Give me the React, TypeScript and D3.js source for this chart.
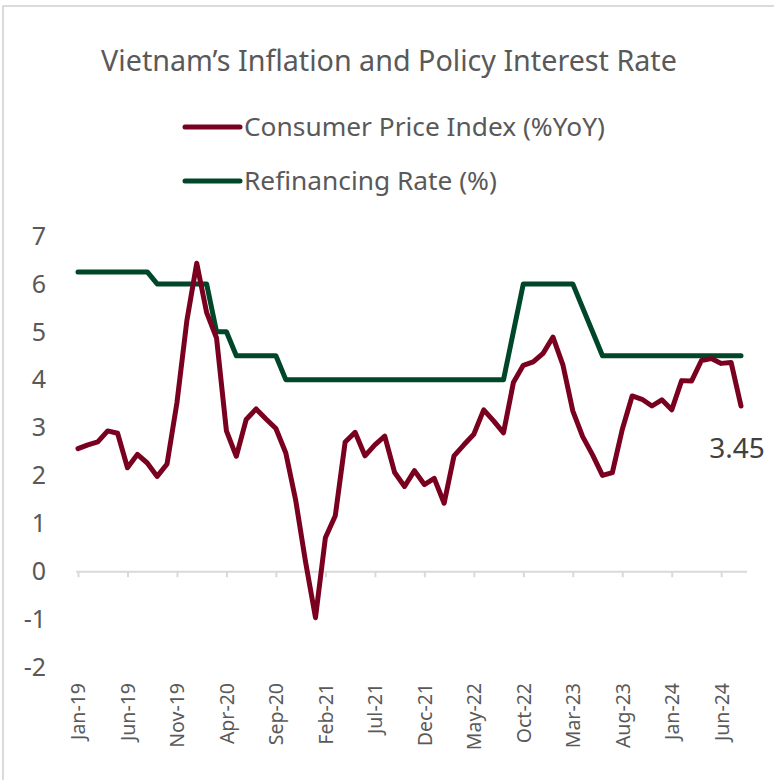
import React, { useRef, useEffect } from 'react'
import * as d3 from 'd3'

// monthly, Jan-19 .. Aug-24
const months = d3.range(68).map((i) => new Date(2019, i, 1))

const cpi = [
    2.56, 2.64, 2.7, 2.93, 2.88, 2.16, 2.44, 2.26, 1.98, 2.24, 3.52, 5.23,
    6.43, 5.4, 4.87, 2.93, 2.4, 3.17, 3.39, 3.18, 2.98, 2.47, 1.48, 0.19,
    -0.97, 0.7, 1.16, 2.7, 2.9, 2.41, 2.64, 2.82, 2.06, 1.77, 2.1, 1.81,
    1.94, 1.42, 2.41, 2.64, 2.86, 3.37, 3.14, 2.89, 3.94, 4.3, 4.37, 4.55,
    4.89, 4.31, 3.35, 2.81, 2.43, 2.0, 2.06, 2.96, 3.66, 3.59, 3.45, 3.58,
    3.37, 3.98, 3.97, 4.4, 4.44, 4.34, 4.36, 3.45,
]

const refiRate = [
    6.25, 6.25, 6.25, 6.25, 6.25, 6.25, 6.25, 6.25, 6, 6, 6, 6,
    6, 6, 5, 5, 4.5, 4.5, 4.5, 4.5, 4.5, 4, 4, 4,
    4, 4, 4, 4, 4, 4, 4, 4, 4, 4, 4, 4,
    4, 4, 4, 4, 4, 4, 4, 4, 5, 6, 6, 6,
    6, 6, 6, 5.5, 5, 4.5, 4.5, 4.5, 4.5, 4.5, 4.5, 4.5,
    4.5, 4.5, 4.5, 4.5, 4.5, 4.5, 4.5, 4.5,
]

const yTicks = [-2, -1, 0, 1, 2, 3, 4, 5, 6, 7]

const series = [
    { name: 'Consumer Price Index (%YoY)', values: cpi, color: '#7a0020' },
    { name: 'Refinancing Rate (%)', values: refiRate, color: '#00472a' },
]

const W = 774
const H = 780
const FONT = '"Noto Sans", sans-serif'
const TEXT = '#595959'

export default function App() {
    const svgRef = useRef<SVGSVGElement>(null)

    useEffect(() => {
        const svg = d3.select(svgRef.current)
        svg.selectAll('*').remove()

        const x = d3.scaleLinear().domain([0, months.length - 1]).range([78, 741])
        const y = d3.scaleLinear().domain([-2, 7]).range([667, 236])

        // 外框
        svg.append('rect')
            .attr('x', 3)
            .attr('y', 6)
            .attr('width', W + 20)
            .attr('height', H)
            .attr('fill', 'white')
            .attr('stroke', '#d0d0d0')
            .attr('stroke-width', 1.5)

        // 标题
        svg.append('text')
            .attr('x', 389)
            .attr('y', 71)
            .attr('text-anchor', 'middle')
            .attr('font-family', FONT)
            .attr('font-size', 28.7)
            .attr('fill', TEXT)
            .text('Vietnam’s Inflation and Policy Interest Rate')

        // 图例
        const legend = svg.selectAll('.legend')
            .data(series)
            .enter()
            .append('g')
            .attr('class', 'legend')
            .attr('transform', (d, i) => `translate(185,${127 + i * 54})`)
        legend.append('line')
            .attr('x1', 0)
            .attr('x2', 55)
            .attr('stroke', (d) => d.color)
            .attr('stroke-width', 5)
            .attr('stroke-linecap', 'round')
        legend.append('text')
            .attr('x', 59)
            .attr('dy', '0.35em')
            .attr('font-family', FONT)
            .attr('font-size', 26.3)
            .attr('fill', TEXT)
            .text((d) => d.name)

        // Y轴标签
        svg.selectAll('.ytick')
            .data(yTicks)
            .enter()
            .append('text')
            .attr('class', 'ytick')
            .attr('x', 46)
            .attr('y', (d) => y(d))
            .attr('dy', '0.35em')
            .attr('text-anchor', 'end')
            .attr('font-family', FONT)
            .attr('font-size', 25)
            .attr('fill', TEXT)
            .text((d) => d)

        // X轴
        const tickIdx = d3.range(0, months.length, 5)
        const axis = d3.axisBottom(x)
            .tickValues(tickIdx)
            .tickSize(6)
            .tickSizeOuter(0)
            .tickFormat((i) => d3.timeFormat('%b-%y')(months[+i]))
        const gx = svg.append('g')
            .attr('transform', `translate(0,${y(0)})`)
            .call(axis)
        gx.select('.domain').attr('d', `M${x(0) - 2},0.5H${x(months.length - 1) + 6}`)
            .attr('stroke', '#d9d9d9').attr('stroke-width', 2)
        gx.selectAll('.tick line').attr('stroke', '#d9d9d9').attr('stroke-width', 2)
        gx.selectAll('.tick text')
            .attr('transform', `translate(0,${683 - y(0)}) rotate(-90)`)
            .attr('x', 0)
            .attr('y', 0)
            .attr('dy', '0.35em')
            .attr('text-anchor', 'end')
            .attr('font-family', FONT)
            .attr('font-size', 19.5)
            .attr('fill', TEXT)

        // 折线
        const line = d3.line<number>()
            .x((d, i) => x(i))
            .y((d) => y(d))
        svg.selectAll('.series')
            .data([series[1], series[0]])
            .enter()
            .append('path')
            .attr('class', 'series')
            .attr('d', (d) => line(d.values))
            .attr('fill', 'none')
            .attr('stroke', (d) => d.color)
            .attr('stroke-width', 5)
            .attr('stroke-linejoin', 'round')
            .attr('stroke-linecap', 'round')

        // 最后一个数据标签
        const last = cpi.length - 1
        svg.append('text')
            .attr('x', x(last) - 4)
            .attr('y', y(cpi[last]) + 52)
            .attr('text-anchor', 'middle')
            .attr('font-family', FONT)
            .attr('font-size', 28)
            .attr('fill', '#404040')
            .text(cpi[last])
    }, [])

    return (
        <svg
            ref={svgRef}
            width={W}
            height={H}
            style={{ position: 'absolute', left: 0, top: 0, background: 'white' }}
        />
    )
}
